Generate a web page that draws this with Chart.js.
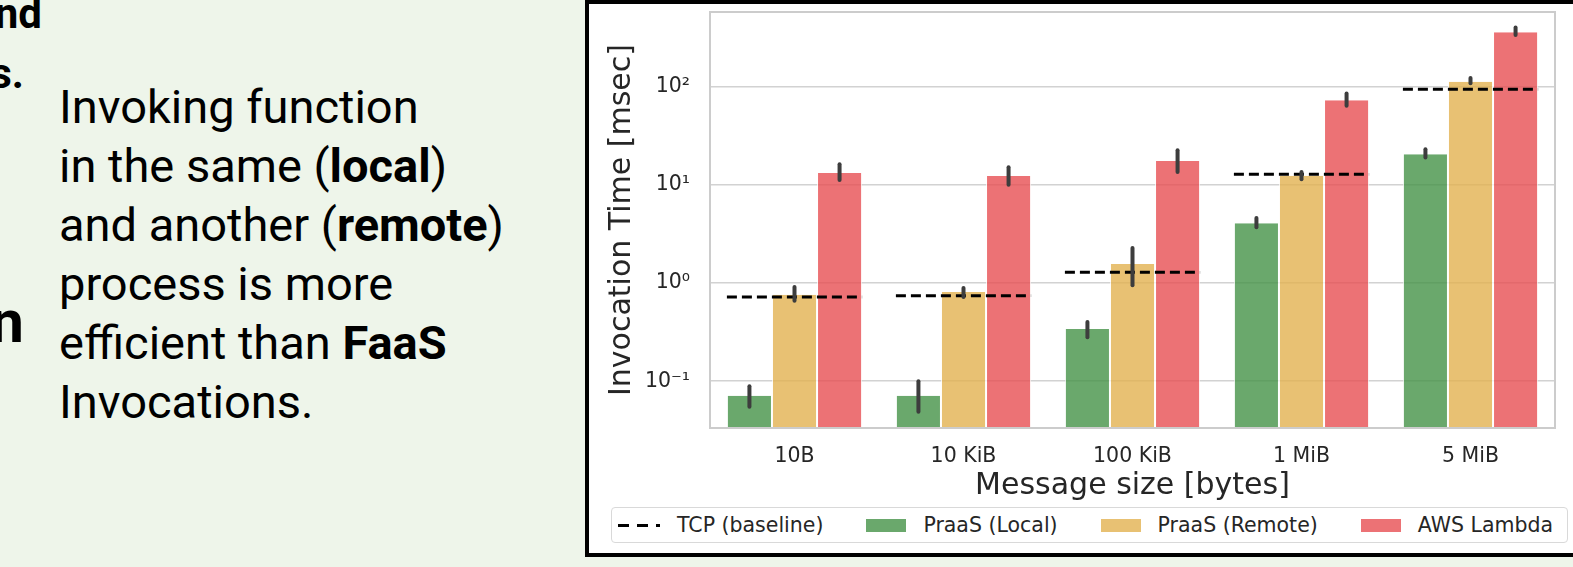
<!DOCTYPE html>
<html>
<head>
<meta charset="utf-8">
<script src="https://cdn.jsdelivr.net/npm/chart.js@4.4.1/dist/chart.umd.min.js"></script>
<style>
  html, body { margin: 0; padding: 0; }
  body {
    width: 1573px; height: 567px; position: relative; overflow: hidden;
    background: #eef5ea; font-family: Roboto, sans-serif; color: #000;
  }
  .frag { position: absolute; font-weight: 700; line-height: 1; white-space: nowrap; }
  #note { position: absolute; left: 59px; top: 77px; font-size: 47px; line-height: 59px; white-space: nowrap; }
  #note b { font-weight: 700; }
  #panel {
    position: absolute; left: 585px; top: 0; width: 984px; height: 549px;
    border: 4px solid #000; border-right: none; background: #fff;
  }
  #chart-wrap { position: absolute; left: 0; top: 0; width: 984px; height: 500px; }
  #legend {
    position: absolute; left: 22px; top: 503px; width: 957px; height: 36px;
    box-sizing: border-box; border: 1px solid #d9d9d9; border-radius: 4px;
    display: flex; align-items: center; gap: 43px; padding-left: 6px;
    font-family: 'DejaVu Sans', sans-serif; font-size: 20.5px; color: #262626;
  }
  .item { display: flex; align-items: center; gap: 17px; white-space: nowrap; }
  .patch { width: 40px; height: 13px; }
  .dash {
    width: 42px; height: 3px;
    background: repeating-linear-gradient(90deg, #000 0 11px, transparent 11px 19px);
  }
</style>
</head>
<body>

<div class="frag" style="right:1531px; top:-7px; font-size:42px;">nd</div>
<div class="frag" style="right:1549px; top:53px; font-size:42px;">s.</div>
<div class="frag" style="right:1549px; top:292px; font-size:60px;">n</div>

<div id="note">Invoking function<br>in the same (<b>local</b>)<br>and another (<b>remote</b>)<br>process is more<br>efficient than <b>FaaS</b><br>Invocations.</div>

<div id="panel">
  <div id="chart-wrap"><canvas id="bars" width="984" height="500"></canvas></div>
  <div id="legend"></div>
</div>

<script>
// ── Data (msec, log scale) ────────────────────────────────────
const categories  = ['10B', '10 KiB', '100 KiB', '1 MiB', '5 MiB'];
const tcpName     = 'TCP (baseline)';
const seriesNames = ['PraaS (Local)', 'PraaS (Remote)', 'AWS Lambda'];

const tcpBaseline = [0.72, 0.74, 1.29, 12.8, 94];
const praasLocal  = [0.071, 0.071, 0.34, 4.05, 20.5];
const praasRemote = [0.76, 0.81, 1.56, 12.4, 112];
const awsLambda   = [13.2, 12.3, 17.5, 72.7, 357];

// error bar ranges [low, high]
const localErr  = [[0.055, 0.089], [0.049, 0.10], [0.28, 0.40], [3.7, 4.6], [19, 23]];
const remoteErr = [[0.66, 0.91], [0.72, 0.89], [0.95, 2.27], [11.4, 13.5], [108, 122]];
const lambdaErr = [[11.2, 16.2], [10.0, 15.1], [13.5, 22.5], [64, 85], [335, 400]];

const yTickValues = [0.1, 1, 10, 100];
const yTickLabels = ['10\u207B\u00B9', '10\u2070', '10\u00B9', '10\u00B2'];

// ── Styles ────────────────────────────────────────────────────
Chart.defaults.font.family = "'DejaVu Sans', sans-serif";
Chart.defaults.color       = '#262626';

const barFill   = ['rgba(69,146,71,0.8)', 'rgba(226,178,80,0.8)', 'rgba(231,79,82,0.8)'];
const errors    = [localErr, remoteErr, lambdaErr];
const groupFrac = 0.8;   // share of a category taken by the bar group

// ── Plugins ───────────────────────────────────────────────────
const frame = {
  id: 'frame',
  afterDraw(chart) {
    const { ctx, chartArea: a } = chart;
    ctx.save();
    ctx.strokeStyle = '#cccccc';
    ctx.lineWidth = 2;
    ctx.strokeRect(a.left, a.top, a.right - a.left, a.bottom - a.top);
    ctx.restore();
  }
};

// dashed TCP baseline across each category group
const tcpLines = {
  id: 'tcpLines',
  afterDatasetsDraw(chart) {
    const { ctx } = chart;
    const x = chart.scales.x, y = chart.scales.y;
    const half = groupFrac / 2;
    ctx.save();
    ctx.strokeStyle = '#000';
    ctx.lineWidth = 3;
    ctx.setLineDash([10, 5]);
    tcpBaseline.forEach((v, i) => {
      const py = y.getPixelForValue(v);
      ctx.beginPath();
      ctx.moveTo(x.getPixelForValue(i - half), py);
      ctx.lineTo(x.getPixelForValue(i + half), py);
      ctx.stroke();
    });
    ctx.restore();
  }
};

const errorBars = {
  id: 'errorBars',
  afterDatasetsDraw(chart) {
    const { ctx } = chart;
    const y = chart.scales.y;
    ctx.save();
    ctx.strokeStyle = '#3d3d3d';
    ctx.lineWidth = 4;
    ctx.lineCap = 'round';
    chart.data.datasets.forEach((ds, di) => {
      chart.getDatasetMeta(di).data.forEach((bar, i) => {
        const [lo, hi] = errors[di][i];
        ctx.beginPath();
        ctx.moveTo(bar.x, y.getPixelForValue(lo));
        ctx.lineTo(bar.x, y.getPixelForValue(hi));
        ctx.stroke();
      });
    });
    ctx.restore();
  }
};

// ── Chart ─────────────────────────────────────────────────────
const chart = new Chart(document.getElementById('bars').getContext('2d'), {
  type: 'bar',
  data: {
    labels: categories,
    datasets: [praasLocal, praasRemote, awsLambda].map((vals, k) => ({
      label:              seriesNames[k],
      data:               vals,
      backgroundColor:    barFill[k],
      borderColor:        'rgba(255,255,255,0.75)',
      borderWidth:        { left: 1, right: 1, top: 0, bottom: 0 },
      categoryPercentage: groupFrac,
      barPercentage:      1.0
    }))
  },
  options: {
    responsive: false,
    animation:  false,
    layout:     { padding: { left: 0, right: 18, top: 8, bottom: 0 } },
    plugins: {
      legend:  { display: false },
      tooltip: { enabled: false }
    },
    scales: {
      x: {
        grid:   { display: false, drawTicks: false },
        border: { display: false },
        ticks:  { font: { size: 20.5 }, padding: 16, maxRotation: 0 },
        title:  { display: true, text: 'Message size [bytes]', font: { size: 30 }, padding: { top: 0, bottom: 0 } },
        afterFit: s => { s.height = 76; }
      },
      y: {
        type:   'logarithmic',
        min:    0.0334,
        max:    575,
        bounds: 'data',
        grid:   { color: '#d2d2d2', lineWidth: 1.5, drawTicks: false },
        border: { display: false },
        afterBuildTicks: s => { s.ticks = yTickValues.map(v => ({ value: v })); },
        ticks: {
          font:     { size: 20.5 },
          padding:  20,
          callback: v => yTickLabels[yTickValues.indexOf(v)]
        },
        title: { display: true, text: 'Invocation Time [msec]', font: { size: 30 }, padding: { top: 15, bottom: 0 } },
        // fixed axis width, no label overhang at the ends
        afterFit: s => { s.width = 121; s.paddingTop = 0; s.paddingBottom = 0; }
      }
    }
  },
  plugins: [frame, tcpLines, errorBars]
});

// ── Legend (HTML) ─────────────────────────────────────────────
const legendItems = [`<span class="item"><span class="dash"></span><span>${tcpName}</span></span>`]
  .concat(seriesNames.map((name, k) =>
    `<span class="item"><span class="patch" style="background:${barFill[k]}"></span><span>${name}</span></span>`));
document.getElementById('legend').innerHTML = legendItems.join('');
</script>
</body>
</html>
